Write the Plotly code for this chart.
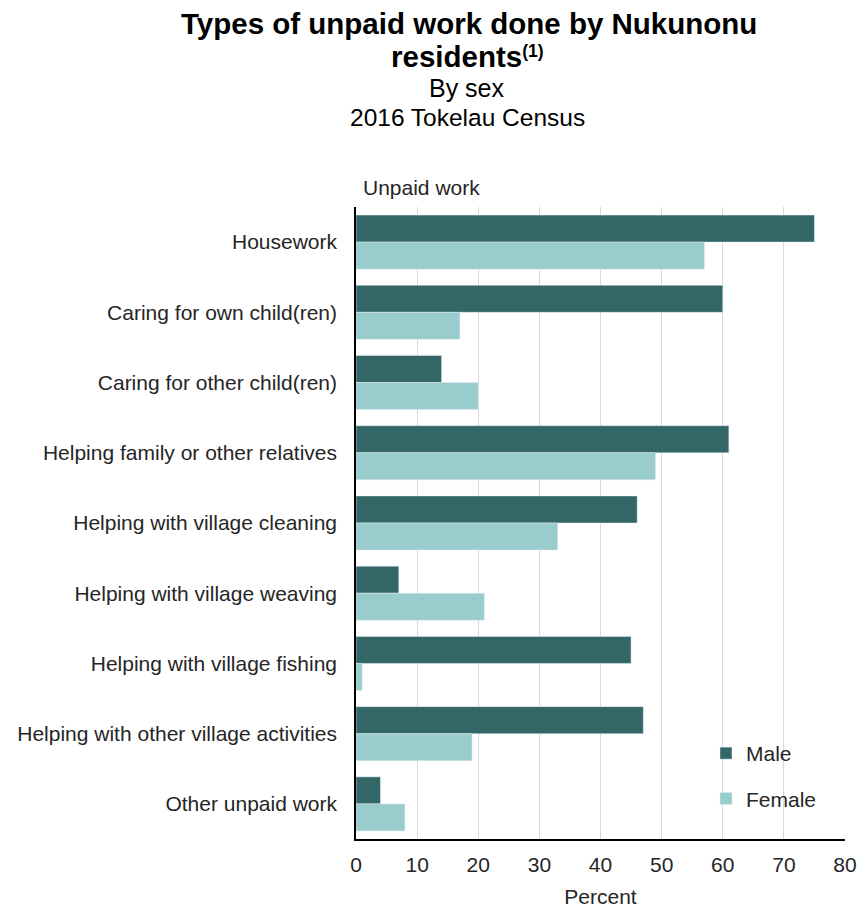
import plotly.graph_objects as go

# Categories of unpaid work and the share (%) of each sex doing them
categories = [
    "Housework",
    "Caring for own child(ren)",
    "Caring for other child(ren)",
    "Helping family or other relatives",
    "Helping with village cleaning",
    "Helping with village weaving",
    "Helping with village fishing",
    "Helping with other village activities",
    "Other unpaid work",
]
male = [75, 60, 14, 61, 46, 7, 45, 47, 4]
female = [57, 17, 20, 49, 33, 21, 1, 19, 8]
x_ticks = [0, 10, 20, 30, 40, 50, 60, 70, 80]

FONT = "Liberation Sans, Arial, sans-serif"
W, H = 857, 908
ML, MR, MT, MB = 356, 12, 207, 69
PH = H - MT - MB


def py(pix):
    """Convert a pixel row from the top of the page into paper y."""
    return (H - MB - pix) / PH


def px(pix):
    """Convert a pixel column into paper x."""
    return (pix - ML) / (W - ML - MR)


fig = go.Figure()
fig.add_trace(go.Bar(
    y=categories, x=male, name="Male", orientation="h",
    marker=dict(color="#336666"), legendgroup="m",
))
fig.add_trace(go.Bar(
    y=categories, x=female, name="Female", orientation="h",
    marker=dict(color="#99CCCC"), legendgroup="f",
))

annotations = [
    dict(text="<b>Types of unpaid work done by Nukunonu</b>", x=px(469), y=py(23),
         font=dict(size=29.5, color="#000000")),
    dict(text="<b>residents</b><span style='font-size:25px'><b><sup>(1)</sup></b></span>",
         x=px(467), y=py(56), font=dict(size=29.5, color="#000000")),
    dict(text="By sex", x=px(467), y=py(88), font=dict(size=25, color="#000000")),
    dict(text="2016 Tokelau Census", x=px(467), y=py(118), font=dict(size=24.5, color="#000000")),
]
for a in annotations:
    a.update(xref="paper", yref="paper", showarrow=False, xanchor="center", yanchor="middle")
annotations.append(dict(
    text="Unpaid work", xref="paper", yref="paper", x=px(361), y=py(187),
    xanchor="left", yanchor="middle", showarrow=False,
    font=dict(size=21, color="#262626"),
))

fig.update_layout(
    width=W, height=H,
    margin=dict(l=ML, r=MR, t=MT, b=MB, pad=0),
    paper_bgcolor="white", plot_bgcolor="white",
    font=dict(family=FONT, size=21, color="#262626"),
    barmode="group", bargap=0.23, bargroupgap=0,
    annotations=annotations,
    legend=dict(
        x=px(706), y=py(733), xanchor="left", yanchor="top",
        traceorder="grouped", tracegroupgap=15,
        font=dict(size=21, color="#262626"),
        bgcolor="rgba(0,0,0,0)",
    ),
    xaxis=dict(
        range=[0, 80], tickvals=x_ticks, showgrid=True, gridcolor="#d9d9d9", gridwidth=1.3,
        showline=True, linecolor="#000000", linewidth=1.5, zeroline=False,
        ticks="outside", ticklen=0, ticklabelstandoff=6,
        tickfont=dict(size=21, color="#262626"),
        title=dict(text="Percent", font=dict(size=21, color="#262626"), standoff=16),
        automargin=False, fixedrange=True,
    ),
    yaxis=dict(
        autorange="reversed", showgrid=False,
        showline=True, linecolor="#000000", linewidth=1.5,
        ticks="outside", ticklen=0, ticklabelstandoff=13,
        tickfont=dict(size=21, color="#262626"),
        automargin=False, fixedrange=True,
    ),
)

fig.write_html("out.html")
